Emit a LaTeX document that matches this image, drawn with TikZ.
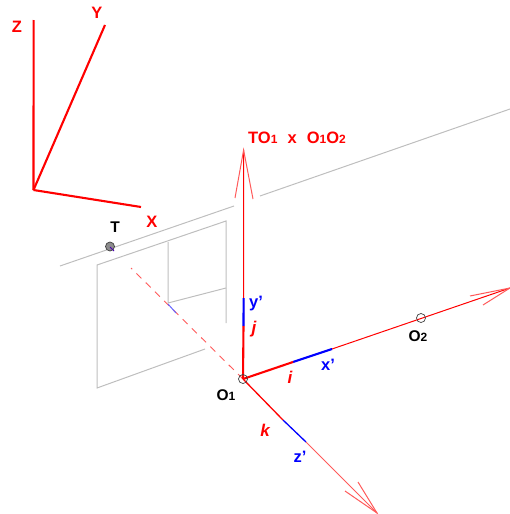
\documentclass[tikz,border=0pt]{standalone}
\usepackage{fontspec}
\setmainfont{Liberation Sans}
\newcommand{\lowdigit}[1]{{\fontsize{12}{12}\selectfont #1}}
\definecolor{wire}{RGB}{190,190,190}
\definecolor{redax}{RGB}{255,0,0}
\definecolor{lightred}{RGB}{255,90,90}
\definecolor{blueax}{RGB}{0,0,255}
\tikzset{
  axisline/.style={redax,line width=2.1pt},
  wireline/.style={wire,line width=1pt},
  thinred/.style={redax,line width=1pt},
  barb/.style={lightred,line width=1pt},
  thickred/.style={redax,line width=2.1pt},
  thickblue/.style={blueax,line width=2.1pt},
  redlabel/.style={text=redax,font=\fontsize{16.5}{16.5}\selectfont\bfseries,inner sep=0pt},
  redmath/.style={text=redax,font=\fontsize{17}{17}\selectfont\itshape\bfseries,inner sep=0pt},
  bluelabel/.style={text=blueax,font=\fontsize{16.5}{16.5}\selectfont\bfseries,inner sep=0pt},
  blacklabel/.style={text=black,font=\fontsize{15.5}{15.5}\selectfont\bfseries,inner sep=0pt},
  pointmark/.style={circle,draw=black!75,line width=0.7pt,minimum size=9pt,inner sep=0pt}
}
\begin{document}
\begin{tikzpicture}[x=1pt,y=-1pt]
\useasboundingbox (0,0) rectangle (510,514);
% world axes
\coordinate (W) at (33.5,190);
\coordinate (WZ) at (33.6,20);
\coordinate (WY) at (105,25);
\coordinate (WX) at (141,207);
\draw[axisline] (W) -- (WZ);
\draw[axisline] (W) -- (WY);
\draw[axisline] (W) -- (WX);
\node[redlabel] (lz) at (17,27) {Z};
\node[redlabel] (ly) at (97,13) {Y};
\node[redlabel] (lx) at (152,222) {X};
% grey wire
\coordinate (G1) at (60,266);
\coordinate (G2) at (234,206);
\coordinate (G3) at (260,196);
\coordinate (G4) at (510,109);
\draw[wireline] (G1) -- (G2);
\draw[wireline] (G3) -- (G4);
\coordinate (R1) at (97,265);
\coordinate (R2) at (226,221);
\coordinate (R3) at (226,323);
\coordinate (R4) at (205,349);
\coordinate (R5) at (97,388);
\draw[wireline] (R3) -- (R2) -- (R1) -- (R5) -- (R4);
\coordinate (I1) at (168,242);
\coordinate (I2) at (168,303);
\coordinate (I3) at (226,288);
\draw[wireline] (I1) -- (I2) -- (I3);
% dashed sight line
\coordinate (O1) at (243,379);
\coordinate (D0) at (131,268);
\coordinate (D1) at (168,304);
\coordinate (D2) at (176,313);
\draw[lightred,line width=0.9pt,dash pattern=on 7pt off 6pt] (O1) -- (D0);
\draw[blueax!60,line width=1pt] (D1) -- (D2);
% up axis
\coordinate (UT) at (243.6,150);
\coordinate (UB) at (243.6,298);
\coordinate (UM) at (243.5,326);
\coordinate (UL) at (235,198);
\coordinate (UR) at (253,199);
\draw[thinred] (UM) -- (UT);
\draw[barb] (UL) -- (UT) -- (UR);
\draw[thickblue] (UB) -- (UM);
\draw[thickred] (O1) -- (UM);
% O2 axis
\coordinate (AM) at (293,362);
\coordinate (AB) at (332,349);
\coordinate (AT) at (510,288);
\coordinate (AL) at (470,296);
\coordinate (AR) at (483,305);
\draw[thinred] (AB) -- (AT);
\draw[barb] (AL) -- (AT) -- (AR);
\draw[thickblue] (AM) -- (AB);
\draw[thickred] (O1) -- (AM);
% k axis
\coordinate (KM) at (283,420);
\coordinate (KB) at (306,442);
\coordinate (KT) at (377,513);
\coordinate (KL) at (345,491);
\coordinate (KR) at (358,482);
\draw[lightred,line width=0.9pt] (KB) -- (KT);
\draw[barb] (KL) -- (KT) -- (KR);
\draw[blueax,line width=1.3pt] (KM) -- (KB);
\draw[redax,line width=1.3pt] (O1) -- (KM);
% points
\node[pointmark,minimum size=9pt] (pO1) at (O1) {};
\node[pointmark,minimum size=9pt] (pO2) at (421,318) {};
\node[pointmark,fill=black!45,minimum size=9pt] (pT) at (110,246.5) {};
\coordinate (TA) at (110,247);
\coordinate (TB) at (114,251);
\draw[blueax!70!red,line width=0.8pt] (TA) -- (TB);
% labels
\node[blacklabel] (lT) at (115,227) {T};
\node[blacklabel] (lO1) at (226,395) {O\lowdigit{1}};
\node[blacklabel] (lO2) at (418,336) {O\lowdigit{2}};
\node[redlabel,anchor=west] (lc) at (248,138) {TO\lowdigit{1}\hspace{5.5pt} x\hspace{5.5pt} O\lowdigit{1}O\lowdigit{2}};
\node[bluelabel] (lyp) at (256,304) {y'};
\node[bluelabel] (lxp) at (328,365) {x'};
\node[bluelabel] (lzp) at (300,457) {z'};
\node[redmath] (lj) at (254,329) {j};
\node[redmath] (li) at (290,377) {i};
\node[redmath] (lk) at (265,430) {k};
\end{tikzpicture}
\end{document}
